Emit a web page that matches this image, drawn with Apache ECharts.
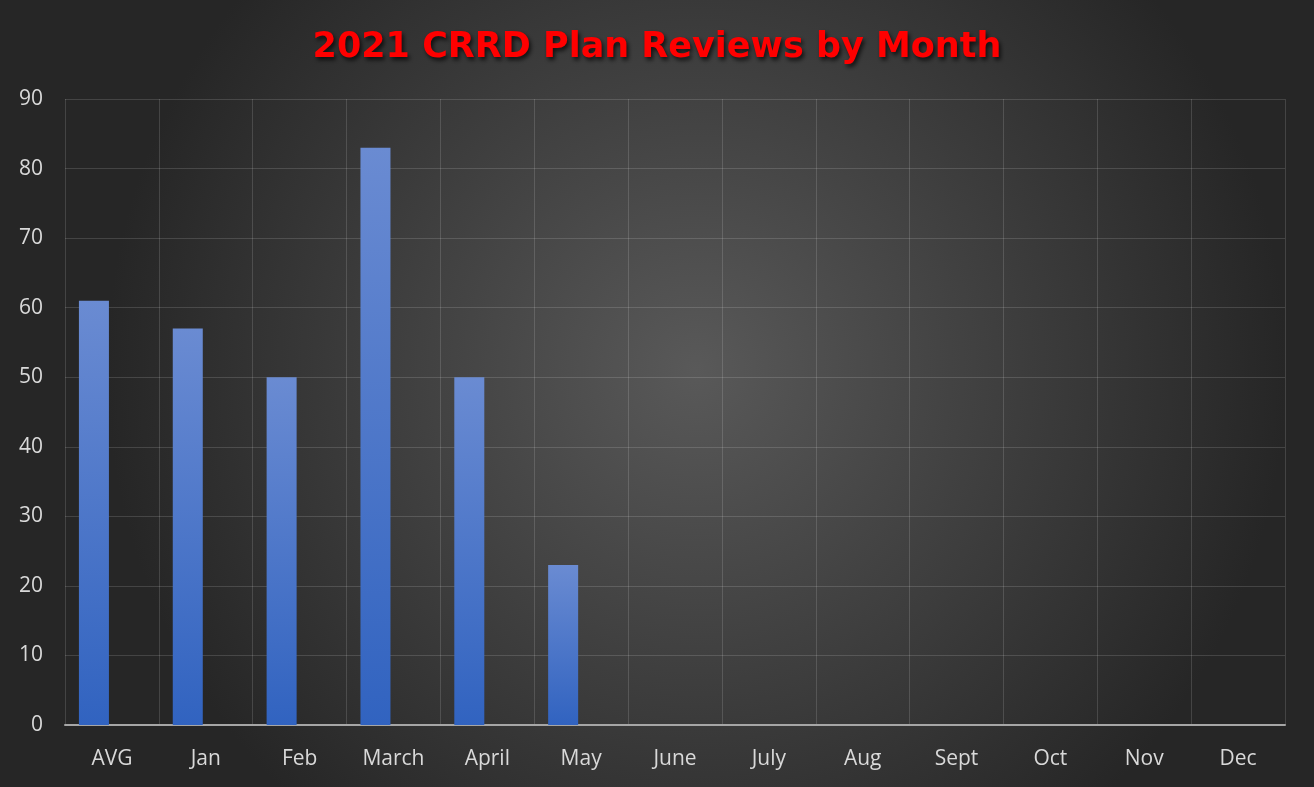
<!DOCTYPE html>
<html>
<head>
<meta charset="utf-8">
<script src="https://cdn.jsdelivr.net/npm/echarts@6/dist/echarts.min.js"></script>
<style>
    html, body { margin: 0; padding: 0; background: #ffffff; }
    #main { width: 1314px; height: 787px; }
</style>
</head>
<body>
<div id="main"></div>
<script>
// 数据
const categories = ['AVG', 'Jan', 'Feb', 'March', 'April', 'May', 'June', 'July', 'Aug', 'Sept', 'Oct', 'Nov', 'Dec']
const reviews = [61, 57, 50, 83, 50, 23, null, null, null, null, null, null, null]
const secondSeries = [null, null, null, null, null, null, null, null, null, null, null, null, null]
const yTicks = [0, 10, 20, 30, 40, 50, 60, 70, 80, 90]

const chart = echarts.init(document.getElementById('main'))

const option = {
    backgroundColor: {
        type: 'radial',
        x: 0.53,
        y: 0.47,
        r: 0.75,
        colorStops: [
            { offset: 0, color: '#595959' },
            { offset: 1, color: '#262626' }
        ]
    },
    title: {
        text: '2021 CRRD Plan Reviews by Month',
        left: 'center',
        top: 25,
        textStyle: {
            color: '#ff0000',
            fontFamily: 'DejaVu Sans',
            fontWeight: 'bold',
            fontSize: 35,
            textShadowColor: 'rgba(0,0,0,0.7)',
            textShadowBlur: 4,
            textShadowOffsetX: 2,
            textShadowOffsetY: 3
        }
    },
    grid: {
        left: 65,
        right: 29,
        top: 99,
        bottom: 62,
        containLabel: false
    },
    xAxis: {
        type: 'category',
        data: categories,
        boundaryGap: true,
        axisTick: { show: false },
        axisLine: {
            lineStyle: { color: '#a6a6a6', width: 2 }
        },
        axisLabel: {
            color: '#d9d9d9',
            fontFamily: 'Open Sans',
            fontSize: 21,
            margin: 24,
            interval: 0
        },
        splitLine: {
            show: true,
            interval: 0,
            lineStyle: { color: 'rgba(255,255,255,0.14)', width: 1 }
        }
    },
    yAxis: {
        type: 'value',
        min: yTicks[0],
        max: yTicks[yTicks.length - 1],
        interval: 10,
        axisLine: { show: false },
        axisTick: { show: false },
        axisLabel: {
            color: '#d9d9d9',
            fontFamily: 'Open Sans',
            fontSize: 21,
            margin: 22
        },
        splitLine: {
            lineStyle: { color: 'rgba(255,255,255,0.14)', width: 1 }
        }
    },
    series: [
        {
            name: 'Reviews',
            type: 'bar',
            data: reviews,
            barWidth: 30,
            barGap: '20%',
            itemStyle: {
                color: {
                    type: 'linear',
                    x: 0, y: 0, x2: 0, y2: 1,
                    colorStops: [
                        { offset: 0, color: '#6a8bd2' },
                        { offset: 1, color: '#3163c0' }
                    ]
                },
                shadowColor: 'rgba(0,0,0,0.45)',
                shadowBlur: 6,
                shadowOffsetX: 3,
                shadowOffsetY: 2
            }
        },
        {
            name: 'Other',
            type: 'bar',
            data: secondSeries,
            barWidth: 30,
            barGap: '20%'
        }
    ]
}

chart.setOption(option)
window.addEventListener('resize', () => chart.resize())
</script>
</body>
</html>
